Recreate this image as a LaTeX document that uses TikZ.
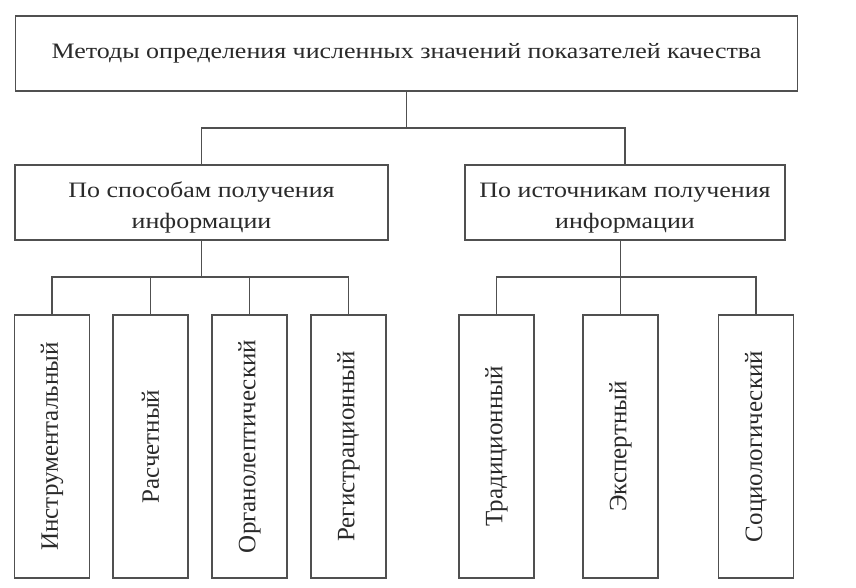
\documentclass[tikz,border=0pt]{standalone}
\usepackage{fontspec}
\setmainfont{Liberation Serif}[FakeStretch=1.18]
\newfontfamily\vertfont{Liberation Serif}
\usetikzlibrary{positioning}
\definecolor{linegray}{HTML}{505050}
\definecolor{textgray}{HTML}{2A2A2A}

\begin{document}
\begin{tikzpicture}[x=1pt,y=-1pt,
  box/.style={draw=linegray, line width=1.3pt, inner sep=0pt, align=center, text=textgray, font=\fontsize{22}{31}\selectfont},
  vbox/.style={box, minimum width=75pt, minimum height=263pt, font=\vertfont\fontsize{25}{30}\selectfont},
  link/.style={draw=linegray, line width=1.3pt}]

\useasboundingbox[fill=white] (0,0) rectangle (856,588);

\node[box, minimum width=782pt, minimum height=75pt] (top) at (406.5,53.5) {Методы определения численных значений показателей качества};

\node[box, minimum width=373pt, minimum height=75pt, text height=51pt, text depth=0pt] (sposob) at (201.5,202.5) {По способам получения\\информации};
\node[box, minimum width=320pt, minimum height=75pt, text height=51pt, text depth=0pt] (istoch) at (625,202.5) {По источникам получения\\информации};

% lower row
\node[vbox] (instr) at (52,446.5) {\rotatebox{90}{Инструментальный}};
\node[vbox] (rasch) at (150.5,446.5) {\rotatebox{90}{Расчетный}};
\node[vbox] (organ) at (249.5,446.5) {\rotatebox{90}{Органолептический}};
\node[vbox] (regis) at (348.5,446.5) {\rotatebox{90}{Регистрационный}};
\node[vbox] (tradi) at (496.5,446.5) {\rotatebox{90}{Традиционный}};
\node[vbox] (exper) at (620.5,446.5) {\rotatebox{90}{Экспертный}};
\node[vbox] (socio) at (756,446.5) {\rotatebox{90}{Социологический}};

\coordinate (bustop) at (406.5,128);
\coordinate (busL) at (201.5,277);
\coordinate (busR) at (620.5,277);

\draw[link] (top.south) -- (bustop);
\draw[link] (sposob.north) |- (bustop) -| (istoch.north);

\draw[link] (sposob.south) -- (busL);
\draw[link] (instr.north) |- (busL) -| (regis.north);
\foreach \n in {rasch,organ}
  \draw[link] (\n.north) -- (\n.north |- busL);

\draw[link] (busR |- istoch.south) -- (busR);
\draw[link] (tradi.north) |- (busR) -| (socio.north);
\draw[link] (exper.north) -- (busR);
\end{tikzpicture}
\end{document}
